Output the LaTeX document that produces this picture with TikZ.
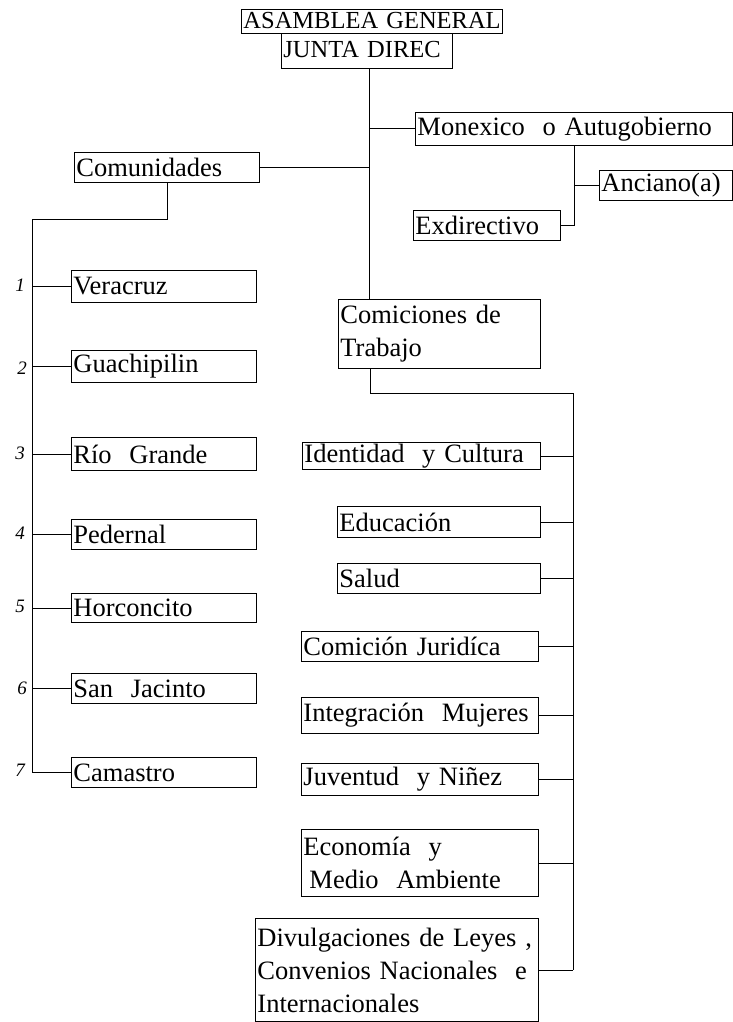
\documentclass[tikz,border=0pt]{standalone}
\usepackage{fontspec}
\setmainfont{Liberation Serif}
\tikzset{
  bx/.style={draw, line width=0.9pt, anchor=north west, inner xsep=2pt, inner ysep=0pt,
             text width=#1, align=left, font=\fontsize{26.5}{33}\selectfont},
  ln/.style={line width=0.9pt},
  num/.style={font=\fontsize{19}{19}\selectfont\itshape}
}
\begin{document}
\begin{tikzpicture}[x=1pt,y=-1pt]
\useasboundingbox (0,0) rectangle (733,1022);
% top
\node[bx=257pt, minimum height=24pt, text height=18pt, text depth=3pt,
      font=\fontsize{24.5}{26}\selectfont] (asam) at (241,9) {\mbox{ASAMBLEA GENERAL}};
\node[bx=167pt, minimum height=35pt, text height=19pt, text depth=6pt,
      font=\fontsize{24.5}{26}\selectfont] (junta) at (281,33) {\mbox{JUNTA DIREC}};
\node[bx=313pt, minimum height=33pt] (mon) at (415,112) {Monexico \ o Autugobierno};
\node[bx=129pt, minimum height=30pt] (anc) at (599,170) {Anciano(a)};
\node[bx=143pt, minimum height=30pt] (exd) at (413,210) {Exdirectivo};
\node[bx=181pt, minimum height=30pt] (com) at (74,152) {Comunidades};
% comunidades
\node[bx=181pt, minimum height=32pt] (ver) at (71,270) {Veracruz};
\node[bx=181pt, minimum height=32pt] (gua) at (71,350) {Guachipilin};
\node[bx=181pt, minimum height=33pt] (rio) at (71,437) {Río \ Grande};
\node[bx=181pt, minimum height=30pt] (ped) at (71,519) {Pedernal};
\node[bx=181pt, minimum height=29pt] (hor) at (71,593) {Horconcito};
\node[bx=181pt, minimum height=30pt] (sja) at (71,673) {San \ Jacinto};
\node[bx=181pt, minimum height=30pt] (cam) at (71,757) {Camastro};
% comiciones
\node[bx=198pt, minimum height=69pt] (cmt) at (338,299) {Comiciones de\\Trabajo};
\node[bx=234pt, minimum height=27pt] (idc) at (302,442) {Identidad \ y Cultura};
\node[bx=199pt, minimum height=31pt] (edu) at (337,506) {Educación};
\node[bx=199pt, minimum height=30pt] (sal) at (337,563) {Salud};
\node[bx=233pt, minimum height=30pt] (jur) at (301,631) {Comición Juridíca};
\node[bx=233pt, minimum height=36pt] (mij) at (301,697) {Integración \ Mujeres};
\node[bx=233pt, minimum height=32pt] (juv) at (301,763) {Juventud \ y Niñez};
\node[bx=233pt, minimum height=67pt] (eco) at (301,829) {Economía \ y\\\hspace*{6pt}Medio \ Ambiente};
\node[bx=279pt, minimum height=103pt] (div) at (255,918) {Divulgaciones de Leyes ,\\Convenios Nacionales \ e\\Internacionales};
% numbers
\node[num] (n1) at (20,285) {1};
\node[num] (n2) at (22,368) {2};
\node[num] (n3) at (20,453) {3};
\node[num] (n4) at (20,533) {4};
\node[num] (n5) at (20,606) {5};
\node[num] (n6) at (22,688) {6};
\node[num] (n7) at (20,770) {7};
% connectors top
\coordinate (sp) at (369,68);
\draw[ln] (junta.south -| sp) -- (sp |- cmt.north);
\draw[ln] (sp |- mon.west) -- (mon.west);
\draw[ln] (com.east) -- (com.east -| sp);
\draw[ln] (mon.south) -- (mon.south |- exd.east) -- (exd.east);
\draw[ln] (mon.south |- anc.west) -- (anc.west);
% comunidades tree
\coordinate (cl) at (32,219);
\draw[ln] (com.south) |- (cl) -- (cl |- cam.west) -- (cam.west);
\foreach \n in {ver,gua,rio,ped,hor,sja}{\draw[ln] (cl |- \n.west) -- (\n.west);}
% comiciones tree
\coordinate (cb) at (370,393);
\coordinate (cr) at (573,393);
\draw[ln] (cmt.south -| cb) -- (cb) -- (cr) -- (cr |- div.east);
\foreach \n in {idc,edu,sal,jur,mij,juv,eco,div}{\draw[ln] (\n.east) -- (\n.east -| cr);}
\end{tikzpicture}
\end{document}
